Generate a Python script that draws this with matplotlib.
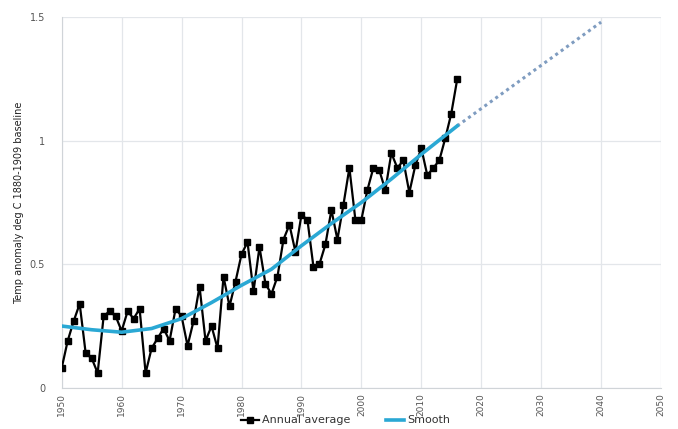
import numpy as np
import matplotlib
matplotlib.use("Agg")
import matplotlib.pyplot as plt

# 年均温度距平
years = list(range(1950, 2017))
annual = [0.08, 0.19, 0.27, 0.34, 0.14, 0.12, 0.06, 0.29, 0.31, 0.29,
          0.23, 0.31, 0.28, 0.32, 0.06, 0.16, 0.20, 0.24, 0.19, 0.32,
          0.29, 0.17, 0.27, 0.41, 0.19, 0.25, 0.16, 0.45, 0.33, 0.43,
          0.54, 0.59, 0.39, 0.57, 0.42, 0.38, 0.45, 0.60, 0.66, 0.55,
          0.70, 0.68, 0.49, 0.50, 0.58, 0.72, 0.60, 0.74, 0.89, 0.68,
          0.68, 0.80, 0.89, 0.88, 0.80, 0.95, 0.89, 0.92, 0.79, 0.90,
          0.97, 0.86, 0.89, 0.92, 1.01, 1.11, 1.25]

# 平滑曲线
smooth_years = [1950, 1955, 1960, 1965, 1970, 1975, 1980, 1985, 1990,
                1995, 2000, 2005, 2010, 2016]
smooth = [0.25, 0.235, 0.225, 0.24, 0.28, 0.345, 0.415, 0.48, 0.575,
          0.665, 0.75, 0.845, 0.945, 1.06]

# 外推
proj_years = [2016, 2040]
proj = [1.06, 1.48]

fig = plt.figure(figsize=(6.78, 4.29), dpi=100)
ax = fig.add_axes([0.091, 0.096, 0.884, 0.864])

ax.plot(proj_years, proj, color="#7f9cc0", linestyle=(0, (1, 1.2)),
        linewidth=2.2, zorder=2)
ax.plot(years, annual, color="black", marker="s", markersize=3.8,
        linewidth=1.6, label="Annual average", zorder=3)
ax.plot(smooth_years, smooth, color="#2aa8d4", linewidth=2.6,
        label="Smooth", zorder=4)

ax.set_xlim(1950, 2050)
ax.set_ylim(0, 1.5)
ax.set_xticks(np.arange(1950, 2051, 10))
ax.set_yticks([0, 0.5, 1, 1.5])
ax.set_yticklabels(["0", "0.5", "1", "1.5"])
ax.tick_params(axis="x", labelrotation=90, labelsize=6.5, colors="#555555",
               length=0, pad=4)
ax.tick_params(axis="y", labelsize=7, colors="#555555", length=0, pad=12)
ax.grid(color="#e3e6ea", linewidth=0.9)
ax.set_axisbelow(True)
for s in ["top", "right"]:
    ax.spines[s].set_visible(False)
ax.spines["left"].set_color("#d0d4d8")
ax.spines["bottom"].set_color("#d0d4d8")

ax.set_ylabel("Temp anomaly deg C 1880-1909 baseline", fontsize=7,
              color="#222222", labelpad=4)

fig.legend(loc="center", bbox_to_anchor=(0.51, 0.02), ncol=2, frameon=False,
           fontsize=8, labelcolor="#333333", handlelength=1.6,
           handletextpad=0.3, columnspacing=3.2, borderpad=0.1)

fig.savefig("out.png", dpi=100)
